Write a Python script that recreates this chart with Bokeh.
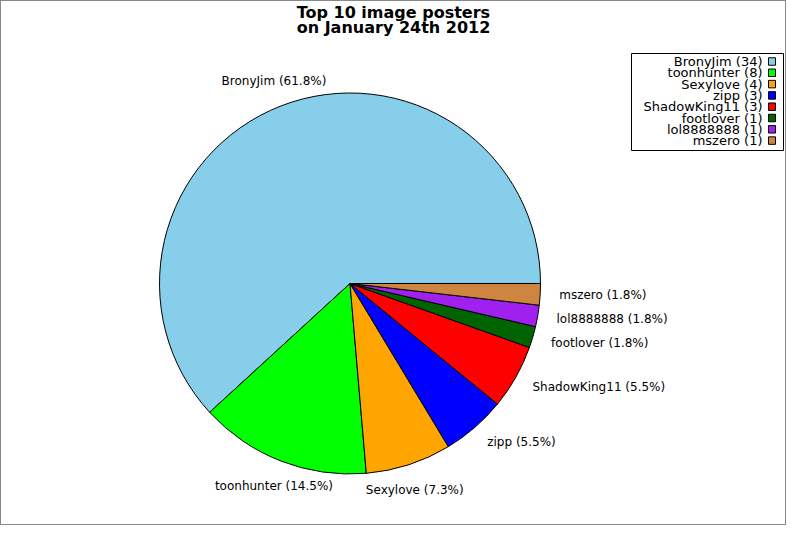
import numpy as np
from bokeh.plotting import figure
from bokeh.models import Range1d, ColumnDataSource
from bokeh.core.properties import value
from bokeh.embed import file_html
from bokeh.resources import INLINE

# ---- data ----
names = ["BronyJim", "toonhunter", "Sexylove", "zipp", "ShadowKing11",
         "footlover", "lol8888888", "mszero"]
counts = [34, 8, 4, 3, 3, 1, 1, 1]
colors = ["#87CEEB", "#00FF00", "#FFA500", "#0000FF", "#FF0000",
          "#006400", "#A020F0", "#CD853F"]
title_lines = ["Top 10 image posters", "on January 24th 2012"]

# ---- layout constants (pixels) ----
W = 784
TH = 37            # title band height
FH = 524 - TH      # frame height
FONT = "DejaVu Sans"
BORDER = 1


def dx(px):
    return px - BORDER


def dy(py):
    return 524 - (py - BORDER)


p = figure(frame_width=W, frame_height=FH,
           x_range=Range1d(0, W), y_range=Range1d(0, FH),
           x_axis_type=None, y_axis_type=None,
           output_backend="svg", toolbar_location=None, min_border=0)
p.grid.visible = False
p.outline_line_color = None
p.background_fill_color = "white"
p.border_fill_color = "white"
p.styles = {"border": "1px solid #888888"}

p.title.text = "\n".join(title_lines)
p.title.align = "center"
p.title.text_font = FONT
p.title.text_font_style = "bold"
p.title.text_font_size = "16px"
p.title.text_line_height = 0.8
p.title.text_color = "black"
p.title.standoff = 0
p.title.offset = 0

# ---- pie ----
cnt = np.array(counts, dtype=float)
total = cnt.sum()
frac = cnt / total
ends = 2 * np.pi * np.cumsum(frac)
starts = ends - 2 * np.pi * frac
mids = (starts + ends) / 2

cx, cy, R = dx(349.5), dy(284.0), 190.5

src = ColumnDataSource(dict(start=starts, end=ends, color=colors, name=names))
p.wedge(x=cx, y=cy, radius=R, start_angle="start", end_angle="end",
        direction="anticlock", fill_color="color", line_color="black",
        line_width=1, source=src)

# ---- slice labels ----
cosm, sinm = np.cos(mids), np.sin(mids)
lab_x = cx + 1.1 * R * cosm
lab_y = cy + 1.1 * R * sinm
aligns = ["center" if abs(c) < 0.5 else ("left" if c > 0 else "right") for c in cosm]
bases = ["bottom" if s > 0.8 else ("top" if s < -0.8 else "middle") for s in sinm]
labels = [f"{n} ({100 * c / total:.1f}%)" for n, c in zip(names, counts)]
lsrc = ColumnDataSource(dict(x=lab_x, y=lab_y, text=labels, align=aligns, base=bases))
p.text(x="x", y="y", text="text", text_align="align", text_baseline="base",
       text_font=value(FONT), text_font_size="12px", text_color="black",
       source=lsrc)

# ---- legend (drawn by hand, text right-aligned with swatch on the right) ----
LEG_L, LEG_R = 630, 782
LEG_T, LEG_B = dy(54), dy(151)
ROW0, ROW_H = 62, 11.3
TEXT_R = 761
SW_X = 770.5

p.quad(left=LEG_L, right=LEG_R, top=LEG_T, bottom=LEG_B,
       fill_color="white", line_color="black", line_width=1)
row_y = [dy(ROW0 + ROW_H * i) for i in range(len(names))]
leg_text = [f"{n} ({c})" for n, c in zip(names, counts)]
gsrc = ColumnDataSource(dict(y=row_y, text=leg_text, color=colors))
p.text(x=TEXT_R, y="y", text="text", text_align="right", text_baseline="middle",
       text_font=value(FONT), text_font_size="13px", text_color="black",
       source=gsrc)
p.rect(x=SW_X, y="y", width=7, height=7.5, fill_color="color",
       line_color="black", line_width=1, source=gsrc)

open("out.html", "w").write(file_html(p, INLINE))
